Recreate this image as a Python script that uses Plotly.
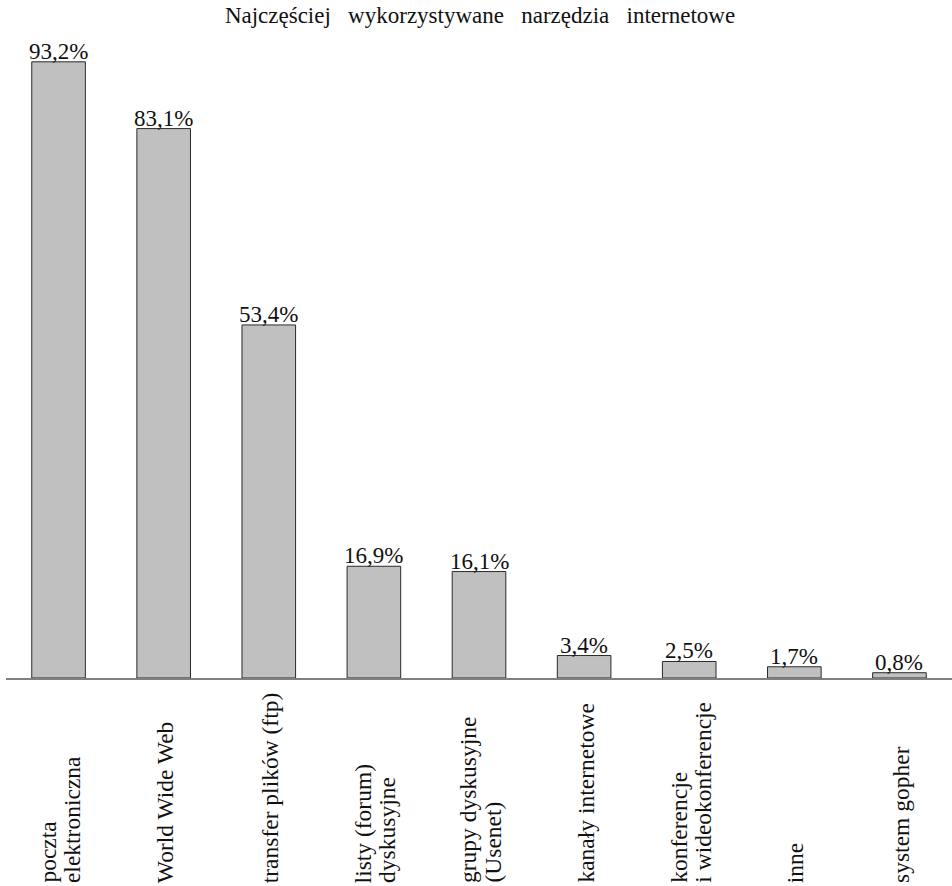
import plotly.graph_objects as go

categories = ["poczta<br>elektroniczna", "World Wide Web", "transfer plików (ftp)",
              "listy (forum)<br>dyskusyjne", "grupy dyskusyjne<br>(Usenet)",
              "kanały internetowe", "konferencje<br>i wideokonferencje", "inne", "system gopher"]
values = [93.2, 83.1, 53.4, 16.9, 16.1, 3.4, 2.5, 1.7, 0.8]
value_labels = ["93,2%", "83,1%", "53,4%", "16,9%", "16,1%", "3,4%", "2,5%", "1,7%", "0,8%"]
title_text = "\u00a0\u00a0\u00a0".join(["Najczęściej", "wykorzystywane", "narzędzia", "internetowe"])

FONT = "Liberation Serif, Times New Roman, serif"
W, H = 952, 886
mt, mb, ml, mr = 40, 208, 6, 0
plot_h = H - mt - mb
ymax = 96.5

x_idx = list(range(len(categories)))

fig = go.Figure()
fig.add_trace(go.Bar(
    x=x_idx, y=values, width=0.51,
    marker=dict(color="#c0c0c0", line=dict(color="#2a2a2a", width=1)),
    hoverinfo="skip",
))

annotations = []
for i, (v, lab) in enumerate(zip(values, value_labels)):
    annotations.append(dict(x=i, y=v, xref="x", yref="y", text=lab, showarrow=False,
                            xanchor="center", yanchor="bottom", yshift=-4,
                            font=dict(family=FONT, size=23, color="#111")))
label_y = -(885 - (H - mb)) / plot_h
line_gap = 24
for i, c in enumerate(categories):
    lines = c.split("<br>")
    n = len(lines)
    for j, ln in enumerate(lines):
        annotations.append(dict(x=i, y=label_y, xref="x", yref="paper", text=ln, showarrow=False,
                                textangle=-90, xanchor="center", yanchor="bottom",
                                xshift=(j - (n - 1) / 2) * line_gap + 1,
                                font=dict(family=FONT, size=23.5, color="#111")))

fig.update_layout(
    width=W, height=H,
    margin=dict(t=mt, b=mb, l=ml, r=mr),
    paper_bgcolor="white", plot_bgcolor="white",
    showlegend=False,
    font=dict(family=FONT),
    title=dict(text=title_text, x=480 / W, xanchor="center", xref="container",
               y=1 - 15 / H, yanchor="middle",
               font=dict(family=FONT, size=23, color="#111")),
    xaxis=dict(range=[-0.5, len(categories) - 0.5], showticklabels=False, ticks="",
               showgrid=False, zeroline=False, showline=True, linecolor="#808080", linewidth=1.5),
    yaxis=dict(range=[0, ymax], visible=False, showgrid=False, zeroline=False),
    annotations=annotations,
)

fig.write_html("out.html")
